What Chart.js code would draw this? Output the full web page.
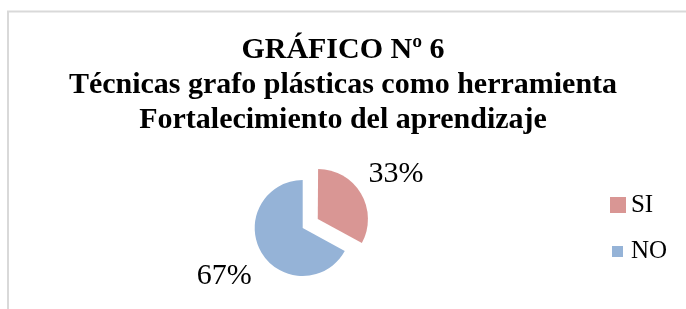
<!DOCTYPE html>
<html lang="es">
<head>
<meta charset="utf-8">
<title>Gráfico Nº 6</title>
<script src="https://cdn.jsdelivr.net/npm/chart.js@4/dist/chart.umd.min.js"></script>
<style>
    html, body { margin: 0; padding: 0; background: #ffffff; }
    #contenedor { width: 686px; height: 309px; position: relative; }
</style>
</head>
<body>
<div id="contenedor">
    <canvas id="graficoTecnicas"></canvas>
</div>
<script>
// Datos del gráfico
const categorias = ['SI', 'NO'];
const valores = [33, 67];
const colores = ['#d99694', '#95b3d7'];
const separacion = [70, 0];   // porción "SI" separada del resto
const titulo = [
    'GRÁFICO Nº 6',
    'Técnicas grafo plásticas como herramienta',
    'Fortalecimiento del aprendizaje'
];

const fuente = "'Liberation Serif', 'Times New Roman', serif";

// Cuadritos de la leyenda (tamaños como en la imagen original)
function cuadro(color, lado) {
    const c = document.createElement('canvas');
    c.width = lado;
    c.height = lado;
    const g = c.getContext('2d');
    g.fillStyle = color;
    g.fillRect(0, 0, lado, lado);
    return c;
}
const marcasLeyenda = [cuadro(colores[0], 16), cuadro(colores[1], 11)];

// Marco gris alrededor del gráfico
const marco = {
    id: 'marco',
    beforeDraw(chart) {
        const ctx = chart.ctx;
        ctx.save();
        ctx.fillStyle = '#ffffff';
        ctx.fillRect(0, 0, chart.width, chart.height);
        ctx.strokeStyle = '#d9d9d9';
        ctx.lineWidth = 2;
        ctx.strokeRect(8, 11.5, chart.width + 20, chart.height + 20);
        ctx.restore();
    }
};

// Etiquetas de porcentaje fuera de cada porción
const etiquetas = {
    id: 'etiquetas',
    afterDatasetsDraw(chart) {
        const ctx = chart.ctx;
        const meta = chart.getDatasetMeta(0);
        const total = valores.reduce((a, b) => a + b, 0);
        ctx.save();
        ctx.font = '30px ' + fuente;
        ctx.fillStyle = '#000000';
        ctx.textAlign = 'center';
        ctx.textBaseline = 'alphabetic';
        meta.data.forEach(function(arco, i) {
            const p = arco.getProps(['x', 'y', 'startAngle', 'endAngle', 'outerRadius']);
            const medio = (p.startAngle + p.endAngle) / 2;
            const desp = (arco.options.offset || 0) / 4;
            const dist = p.outerRadius + desp + 43;
            const cx = p.x + Math.cos(medio) * dist;
            const cy = p.y + Math.sin(medio) * dist;
            const texto = Math.round(valores[i] / total * 100) + '%';
            const m = ctx.measureText(texto);
            ctx.fillText(texto, cx, cy + m.actualBoundingBoxAscent / 2);
        });
        ctx.restore();
    }
};

document.addEventListener('DOMContentLoaded', function() {
    const ctx = document.getElementById('graficoTecnicas').getContext('2d');
    new Chart(ctx, {
        type: 'pie',
        data: {
            labels: categorias,
            datasets: [{
                data: valores,
                backgroundColor: colores,
                borderWidth: 0,
                offset: separacion
            }]
        },
        options: {
            responsive: true,
            maintainAspectRatio: false,
            animation: false,
            devicePixelRatio: 1,
            radius: 48,
            layout: {
                padding: { top: 20, left: 9, right: 9, bottom: 11 }
            },
            plugins: {
                title: {
                    display: true,
                    text: titulo,
                    color: '#000000',
                    font: { family: fuente, size: 30, weight: 'bold', lineHeight: 35 / 30 },
                    padding: { top: 12.5, bottom: 20.5 }
                },
                legend: {
                    position: 'right',
                    fullSize: false,
                    labels: {
                        usePointStyle: true,
                        boxWidth: 1,
                        padding: 21,
                        color: '#000000',
                        font: { family: fuente, size: 25 },
                        generateLabels: function(chart) {
                            return categorias.map(function(nombre, i) {
                                return {
                                    text: nombre,
                                    fillStyle: colores[i],
                                    strokeStyle: colores[i],
                                    lineWidth: 0,
                                    pointStyle: marcasLeyenda[i],
                                    hidden: !chart.getDataVisibility(i),
                                    index: i
                                };
                            });
                        }
                    }
                },
                tooltip: { enabled: false }
            }
        },
        plugins: [marco, etiquetas]
    });
});
</script>
</body>
</html>
